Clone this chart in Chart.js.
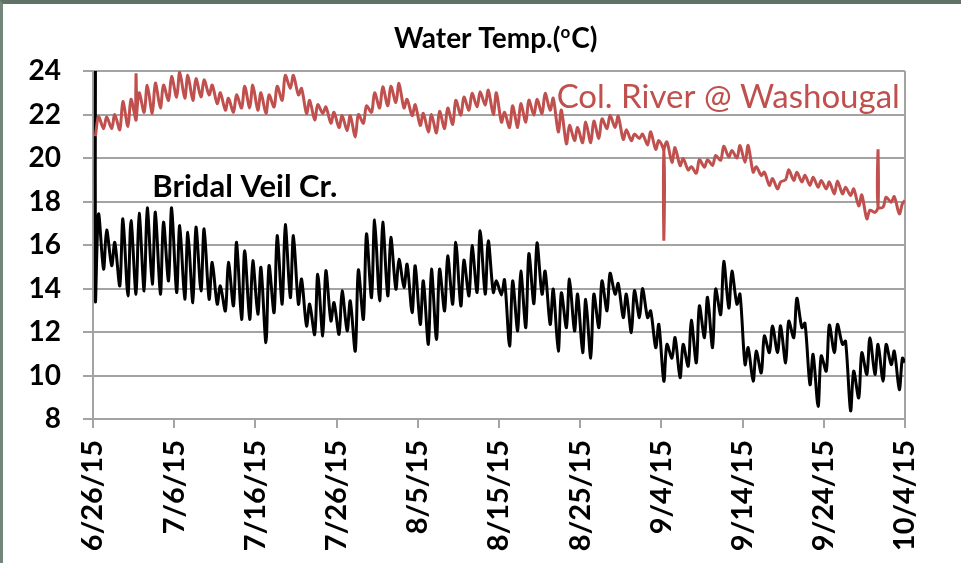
<!DOCTYPE html>
<html>
<head>
<meta charset="utf-8">
<title>Water Temp.</title>
<script src="https://cdn.jsdelivr.net/npm/chart.js@4.4.1/dist/chart.umd.min.js"></script>
<style>
  html, body { margin: 0; padding: 0; background: #fff; }
  #wrap { position: relative; width: 961px; height: 563px; overflow: hidden; }
  #frame { position: absolute; left: 0; top: 0; right: 0; bottom: 0; box-sizing: border-box;
           border-top: 4px solid #617366; border-left: 3px solid #74857a;
           pointer-events: none; }
</style>
</head>
<body>
<div id="wrap">
  <canvas id="chart" width="961" height="563"></canvas>
  <div id="frame"></div>
</div>
<script>
// --- Daten: Tagesminimum / -maximum (Tag 0 = 6/26/15) ---
const dateLabels = ['6/26/15', '7/6/15', '7/16/15', '7/26/15', '8/5/15', '8/15/15',
                    '8/25/15', '9/4/15', '9/14/15', '9/24/15', '10/4/15'];

// Col. River @ Washougal
const redMin = [
  21.0, 21.35, 21.35, 21.3, 21.45, 21.75, 22.1, 22.05, 22.3, 22.65,
  22.8, 22.75, 22.65, 22.8, 22.9, 22.5, 22.2, 22.1, 22.3, 22.3,
  22.2, 22.05, 22.35, 22.65, 23.2, 22.9, 22.05, 21.75, 22.05, 21.6,
  21.4, 21.25, 20.97, 21.6, 22.1, 22.3, 22.4, 22.55, 22.3, 21.95,
  21.5, 21.2, 21.15, 21.35, 21.55, 21.97, 22.2, 22.35, 22.43, 22.0,
  21.65, 21.4, 21.4, 21.65, 21.97, 22.05, 22.2, 21.2, 20.65, 20.8,
  20.7, 20.7, 20.9, 21.35, 21.4, 20.85, 20.8, 20.9, 20.6, 20.4,
  20.3, 19.8, 19.65, 19.45, 19.3, 19.58, 19.66, 19.9, 20.05, 20.0,
  19.8, 19.35, 19.2, 18.74, 18.58, 19.0, 18.97, 18.9, 18.74, 18.66,
  18.58, 18.35, 18.35, 18.28, 17.8, 17.2, 17.5, 17.74, 17.97, 17.43
];
const redMax = [
  21.9, 21.9, 22.0, 22.6, 22.7, 23.0, 23.35, 23.45, 23.35, 23.75,
  23.95, 23.8, 23.65, 23.6, 23.35, 23.0, 22.75, 22.9, 23.3, 23.35,
  23.0, 22.9, 23.3, 23.8, 23.8, 23.2, 22.65, 22.45, 22.35, 22.1,
  21.95, 21.95, 22.0, 22.4, 23.0, 23.28, 23.3, 23.43, 22.7, 22.45,
  22.05, 22.0, 22.15, 22.3, 22.65, 22.8, 22.97, 23.05, 23.12, 23.0,
  22.1, 22.4, 22.5, 22.66, 22.7, 22.97, 22.75, 22.2, 21.5, 21.4,
  21.66, 21.7, 21.8, 21.97, 21.92, 21.3, 21.1, 21.1, 21.2, 20.8,
  20.74, 20.48, 19.97, 19.6, 19.92, 19.92, 20.12, 20.54, 20.35, 20.57,
  20.58, 19.6, 19.35, 19.05, 18.9, 19.46, 19.35, 19.2, 19.12, 18.97,
  18.9, 18.94, 18.66, 18.58, 18.3, 17.6, 17.75, 18.2, 18.23, 17.9
];
const redSpikeDays = [5, 70, 96];
const redSpikeAt = ['min', 'min', 'max'];
const redSpikeValues = [23.9, 16.2, 20.4];
const redEnd = 18.05;

// Bridal Veil Cr.
const blackMin = [
  13.43, 14.89, 15.05, 14.12, 13.66, 13.74, 13.89, 14.2, 13.74, 14.35,
  13.82, 13.51, 13.35, 13.89, 13.51, 13.28, 12.97, 13.2, 12.58, 12.58,
  12.82, 11.51, 12.89, 13.28, 13.58, 13.28, 12.28, 11.89, 11.82, 12.51,
  11.89, 12.05, 11.12, 12.58, 13.58, 13.43, 13.66, 13.97, 14.05, 12.89,
  12.35, 11.43, 11.66, 12.97, 13.28, 13.2, 13.66, 13.82, 13.74, 13.82,
  13.7, 11.35, 12.05, 12.2, 13.3, 13.74, 12.35, 11.12, 12.2, 12.05,
  11.05, 10.8, 12.2, 12.97, 13.74, 12.66, 11.97, 12.66, 12.66, 11.28,
  9.74, 10.8, 9.9, 10.43, 10.58, 11.74, 11.28, 12.8, 13.1, 13.28,
  10.5, 9.74, 10.12, 11.05, 11.05, 10.58, 11.74, 12.2, 9.58, 8.58,
  10.2, 11.05, 11.43, 8.38, 8.97, 10.05, 10.05, 9.74, 10.5, 9.35
];
const blackMax = [
  17.43, 16.69, 16.12, 17.2, 17.12, 17.46, 17.71, 17.51, 17.05, 17.71,
  16.89, 16.58, 16.82, 16.74, 15.2, 14.12, 15.2, 16.12, 15.74, 15.28,
  14.97, 15.05, 16.43, 16.94, 16.43, 14.43, 13.28, 14.66, 14.82, 13.35,
  13.89, 13.43, 14.85, 16.51, 17.15, 17.05, 16.35, 15.35, 15.12, 15.05,
  14.35, 14.89, 14.89, 15.5, 16.12, 15.31, 15.97, 16.66, 16.2, 14.35,
  14.4, 14.35, 14.8, 15.6, 16.1, 14.8, 13.97, 13.8, 14.43, 13.74,
  13.5, 13.74, 14.35, 14.7, 14.23, 13.74, 13.9, 14.0, 12.97, 12.35,
  11.43, 11.74, 11.43, 12.54, 13.2, 13.6, 13.97, 15.25, 14.8, 13.74,
  11.28, 11.12, 11.82, 12.28, 12.28, 12.5, 13.55, 12.4, 10.97, 10.9,
  12.32, 12.35, 11.58, 10.2, 11.05, 11.74, 11.43, 11.43, 11.12, 10.8
];
const blackStart = 24;
const blackEnd = 10.6;

// --- Punkte aufbauen (Minimum morgens, Maximum abends) ---
function buildPoints(mins, maxs) {
    const pts = [];
    mins.forEach((v, d) => {
        pts.push({ x: d + 0.3, y: v });
        pts.push({ x: d + 0.68, y: maxs[d] });
    });
    return pts;
}

const redPoints = buildPoints(redMin, redMax);
for (let k = redSpikeDays.length - 1; k >= 0; k--) {
    const i = redSpikeDays[k] * 2 + (redSpikeAt[k] === 'max' ? 1 : 0);
    const base = redPoints[i];
    redPoints.splice(i + 1, 0, { x: base.x, y: redSpikeValues[k] }, { x: base.x, y: base.y });
}
redPoints.push({ x: 100, y: redEnd });

const blackPoints = buildPoints(blackMin, blackMax);
blackPoints.unshift({ x: blackPoints[0].x, y: blackStart });
blackPoints.push({ x: 100, y: blackEnd });

const GRID = '#a3a3a3';

// --- Titel und Beschriftungen direkt auf die Leinwand ---
const labelPlugin = {
    id: 'labels',
    afterDatasetsDraw(chart) {
        const { ctx, scales: { x, y } } = chart;
        ctx.save();
        ctx.textBaseline = 'alphabetic';

        // Titel mit hochgestelltem o
        ctx.fillStyle = '#000';
        const big = 'bold 28px Lato', small = 'bold 17px Lato';
        ctx.font = big;
        const w1 = ctx.measureText('Water Temp.(').width;
        const w3 = ctx.measureText('C)').width;
        ctx.font = small;
        const w2 = ctx.measureText('o').width + 1;
        let tx = x.getPixelForValue(49.6) - (w1 + w2 + w3) / 2;
        const ty = 48;
        ctx.font = big;
        ctx.fillText('Water Temp.(', tx, ty);
        ctx.font = small;
        ctx.fillText('o', tx + w1, ty - 10);
        ctx.font = big;
        ctx.fillText('C)', tx + w1 + w2, ty);

        ctx.font = '33px Lato';
        ctx.fillStyle = '#c0504d';
        ctx.fillText('Col. River @ Washougal', x.getPixelForValue(57.1), y.getPixelForValue(22.3));

        ctx.font = 'bold 31px Lato';
        ctx.fillStyle = '#000';
        ctx.fillText('Bridal Veil Cr.', x.getPixelForValue(7.3), y.getPixelForValue(18.2));
        ctx.restore();
    }
};

new Chart(document.getElementById('chart'), {
    type: 'line',
    data: {
        datasets: [
            {
                label: 'Col. River @ Washougal',
                data: redPoints,
                borderColor: '#c0504d',
                borderWidth: 3,
                pointRadius: 0,
                tension: 0.3
            },
            {
                label: 'Bridal Veil Cr.',
                data: blackPoints,
                borderColor: '#000',
                borderWidth: 3,
                pointRadius: 0,
                tension: 0.3
            }
        ]
    },
    options: {
        responsive: false,
        animation: false,
        layout: { padding: { left: 0, top: 71, right: 56, bottom: 0 } },
        plugins: { legend: { display: false }, tooltip: { enabled: false } },
        scales: {
            x: {
                type: 'linear',
                min: 0,
                max: 100,
                afterBuildTicks: s => { s.ticks = dateLabels.map((_, i) => ({ value: i * 10 })); },
                afterFit: s => { s.height = 144; s.paddingLeft = 0; s.paddingRight = 0; },
                ticks: {
                    callback: (v, i) => dateLabels[i],
                    minRotation: 90,
                    maxRotation: 90,
                    autoSkip: false,
                    padding: 12,
                    color: '#000',
                    font: { family: 'Lato', size: 29, weight: 'bold' }
                },
                grid: {
                    color: c => c.index === dateLabels.length - 1 ? GRID : 'rgba(0,0,0,0)',
                    tickColor: GRID,
                    tickLength: 9,
                    lineWidth: 2
                },
                border: { color: GRID, width: 2 }
            },
            y: {
                min: 8,
                max: 24,
                afterFit: s => { s.width = 93; s.paddingTop = 0; s.paddingBottom = 0; },
                ticks: {
                    stepSize: 2,
                    padding: 22,
                    color: '#000',
                    font: { family: 'Lato', size: 28, weight: 'bold' }
                },
                grid: { color: GRID, tickLength: 10, lineWidth: 2 },
                border: { color: GRID, width: 2 }
            }
        }
    },
    plugins: [labelPlugin]
});
</script>
</body>
</html>
